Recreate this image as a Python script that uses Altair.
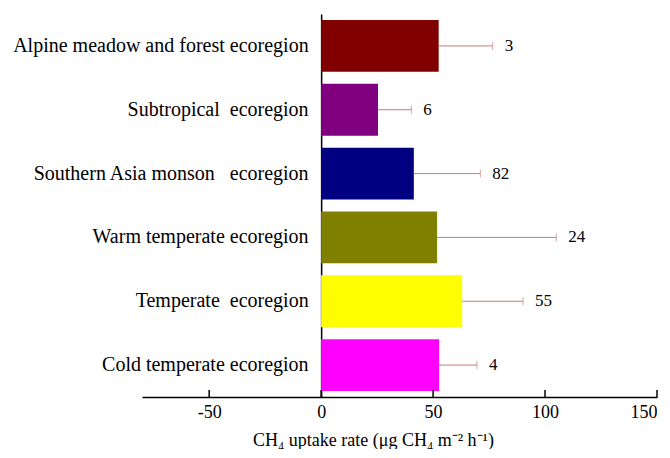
import altair as alt
import pandas as pd

NB = "\u00a0"
categories = [
    "Alpine meadow and forest ecoregion",
    "Subtropical" + NB + " ecoregion",
    "Southern Asia monson" + NB + NB + " ecoregion",
    "Warm temperate ecoregion",
    "Temperate" + NB + " ecoregion",
    "Cold temperate ecoregion",
]
means = [52.5, 25.4, 41.4, 51.8, 63.0, 52.7]
upper = [76.6, 40.3, 71.1, 105.0, 90.2, 69.6]
counts = ["3", "6", "82", "24", "55", "4"]
colors = ["#800000", "#800080", "#000080", "#808000", "#ffff00", "#ff00ff"]
tick_values = [-50, 0, 50, 100, 150]

W, H = 515, 383
XMIN, XMAX = -80, 150
FONT = "Liberation Serif"

df = pd.DataFrame({"cat": categories, "mean": means, "upper": upper,
                   "n": counts, "color": colors})
ticks_df = pd.DataFrame({"t": tick_values})

xscale = alt.Scale(domain=[XMIN, XMAX], nice=False, zero=False)
yscale = alt.Scale(paddingInner=0.1875, paddingOuter=0.094)
zero_px = -(0 - XMIN) / (XMAX - XMIN) * W

y_enc = alt.Y("cat:N", sort=categories, scale=yscale,
              axis=alt.Axis(title=None, ticks=False, domain=True,
                            domainColor="black", domainWidth=1.5,
                            labelFont=FONT, labelFontSize=20,
                            labelColor="black", labelPadding=13,
                            labelLimit=0, offset=zero_px))

bars = alt.Chart(df).mark_bar().encode(
    y=y_enc,
    x=alt.X("mean:Q", scale=xscale,
            axis=alt.Axis(values=tick_values, ticks=False, grid=False,
                          domainColor="black", domainWidth=1.5,
                          labelFont=FONT, labelFontSize=18,
                          labelColor="black", labelPadding=6,
                          labelExpr="'' + datum.value",
                          title="CH₄ uptake rate (μg CH₄ m⁻² h⁻¹)",
                          titleFont=FONT, titleFontSize=18,
                          titleFontWeight="normal", titleColor="black",
                          titlePadding=10, titleX=231, titleAlign="center")),
    x2=alt.datum(0),
    color=alt.Color("color:N", scale=None),
)

err = alt.Chart(df).mark_rule(color="#c97b7b", strokeWidth=1).encode(
    y=alt.Y("cat:N", sort=categories, scale=yscale),
    x=alt.X("mean:Q", scale=xscale),
    x2="upper:Q",
)

caps = alt.Chart(df).mark_tick(color="#c97b7b", thickness=1, size=8,
                               orient="vertical").encode(
    y=alt.Y("cat:N", sort=categories, scale=yscale),
    x=alt.X("upper:Q", scale=xscale),
)

labels = alt.Chart(df).mark_text(align="left", baseline="middle", dx=12,
                                 font=FONT, fontSize=17, color="black").encode(
    y=alt.Y("cat:N", sort=categories, scale=yscale),
    x=alt.X("upper:Q", scale=xscale),
    text="n:N",
)

xticks = alt.Chart(ticks_df).mark_rule(color="black", strokeWidth=1.5).encode(
    x=alt.X("t:Q", scale=xscale),
    y=alt.value(H - 7),
    y2=alt.value(H),
)

chart = alt.layer(bars, err, caps, labels, xticks).properties(
    width=W, height=H,
    padding={"left": 4, "top": 6, "right": 0, "bottom": 0},
    background="white",
).configure_view(stroke=None)

chart.save("out.html", embed_options={"renderer": "svg", "actions": False})
